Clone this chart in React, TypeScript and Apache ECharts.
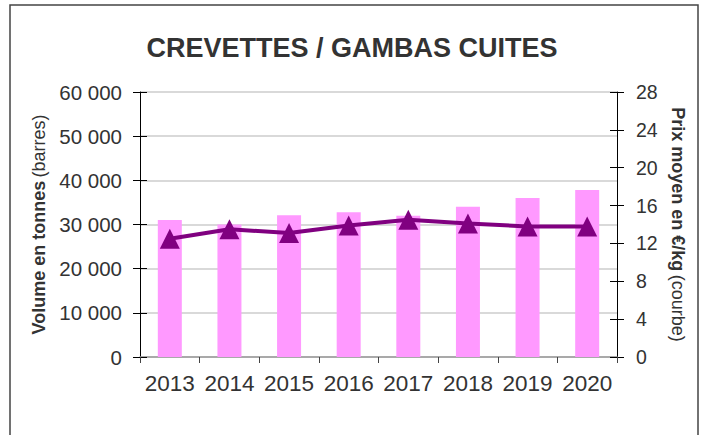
import React, { useEffect, useRef } from "react";
import * as echarts from "echarts";

const years = ["2013", "2014", "2015", "2016", "2017", "2018", "2019", "2020"];
const volumes = [31000, 30000, 32100, 32800, 32000, 34000, 36000, 37800];
const prices = [12.5, 13.5, 13.1, 13.9, 14.5, 14.1, 13.8, 13.8];
const title = "CREVETTES / GAMBAS CUITES";

const FONT = "'Liberation Sans', Arial, sans-serif";

export default function App() {
  const ref = useRef<HTMLDivElement>(null);
  useEffect(() => {
    if (!ref.current) return;
    const chart = echarts.init(ref.current, null, { renderer: "svg" });
    const grid = { left: 140, right: 87, top: 92, bottom: 78 };
    const labelStyle = { color: "#333", fontSize: 20, fontFamily: FONT };
    const nameRich = {
      b: { fontSize: 18, fontWeight: "bold", color: "#333", fontFamily: FONT },
      n: { fontSize: 18, color: "#333", fontFamily: FONT },
    };
    chart.setOption({
      animation: false,
      backgroundColor: "#fff",
      textStyle: { fontFamily: FONT },
      title: {
        text: title,
        left: "center",
        top: 29,
        textStyle: { fontSize: 27, fontWeight: "bold", color: "#333", fontFamily: FONT },
      },
      graphic: [
        {
          type: "rect",
          shape: { x: 10, y: 5, width: 688, height: 440 },
          style: { fill: "none", stroke: "#444", lineWidth: 1.5 },
          silent: true,
        },
      ],
      grid,
      xAxis: {
        type: "category",
        data: years,
        axisLine: { lineStyle: { color: "#999", width: 1.5 } },
        axisTick: { show: true, length: 6, lineStyle: { color: "#444" } },
        axisLabel: {
          ...labelStyle,
          fontSize: 22.5,
          margin: 15,
          interval: 0,
          hideOverlap: false,
        },
      },
      yAxis: [
        {
          type: "value",
          min: 0,
          max: 60000,
          interval: 10000,
          position: "left",
          axisLine: { show: true, lineStyle: { color: "#000" } },
          axisTick: { show: true, length: 7, lineStyle: { color: "#000" } },
          splitLine: { lineStyle: { color: "#ccc", width: 1.5 } },
          axisLabel: {
            ...labelStyle,
            fontSize: 20.5,
            margin: 18,
            formatter: (v: number) => String(v).replace(/\B(?=(\d{3})+(?!\d))/g, " "),
          },
          name: "{b|Volume en tonnes} {n|(barres)}",
          nameLocation: "middle",
          nameGap: 92,
          nameTextStyle: { rich: nameRich },
        },
        {
          type: "value",
          min: 0,
          max: 28,
          interval: 4,
          position: "right",
          axisLine: { show: true, lineStyle: { color: "#000" } },
          axisTick: { show: true, length: 7, lineStyle: { color: "#000" } },
          splitLine: { show: false },
          axisLabel: { ...labelStyle, fontSize: 19.5, margin: 19 },
          name: "{b|Prix moyen en €/kg} {n|(courbe)}",
          nameLocation: "middle",
          nameGap: 45,
          nameRotate: -90,
          nameTextStyle: { rich: nameRich },
        },
        {
          type: "value",
          min: 0,
          max: 60000,
          interval: 10000,
          position: "left",
          axisLine: { show: false },
          axisTick: { show: true, inside: true, length: 7, lineStyle: { color: "#000" } },
          splitLine: { show: false },
          axisLabel: { show: false },
        },
        {
          type: "value",
          min: 0,
          max: 28,
          interval: 4,
          position: "right",
          axisLine: { show: false },
          axisTick: { show: true, inside: true, length: 7, lineStyle: { color: "#000" } },
          splitLine: { show: false },
          axisLabel: { show: false },
        },
      ],
      series: [
        {
          type: "bar",
          yAxisIndex: 0,
          data: volumes,
          barWidth: 24,
          itemStyle: { color: "#FF99FF" },
        },
        {
          type: "line",
          yAxisIndex: 1,
          data: prices,
          symbol: "triangle",
          symbolSize: 20,
          lineStyle: { color: "#800080", width: 4 },
          itemStyle: { color: "#800080" },
        },
      ],
    });
    return () => chart.dispose();
  }, []);
  return (
    <div
      ref={ref}
      style={{ position: "fixed", left: 0, top: 0, width: 704, height: 435 }}
    />
  );
}
